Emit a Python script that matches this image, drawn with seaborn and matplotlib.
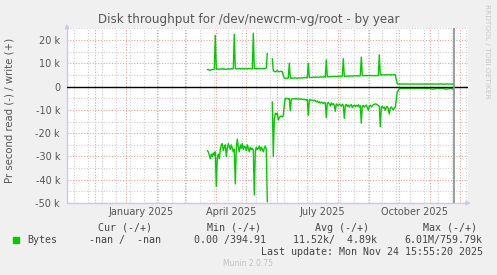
import numpy as np
import pandas as pd
import matplotlib
matplotlib.use("Agg")
import matplotlib.pyplot as plt
import matplotlib.dates as mdates
import seaborn as sns

# ---------------- data ----------------
title = "Disk throughput for /dev/newcrm-vg/root - by year"
y_label = "Pr second read (-) / write (+)"
y_ticks = [20, 10, 0, -10, -20, -30, -40, -50]          # in k
y_tick_labels = ["20 k", "10 k", "0", "-10 k", "-20 k", "-30 k", "-40 k", "-50 k"]
y_minor_ticks = [25, 15, 5, -5, -15, -25, -35, -45]
x_label_dates = ["2025-01-16", "2025-04-16", "2025-07-16", "2025-10-16"]
x_labels = ["January 2025", "April 2025", "July 2025", "October 2025"]

seg1_start = "2025-03-23"
seg2_start = "2025-05-27"
now_time = "2025-11-24 15:55"

write_seg1 = [7.3, 7.4, 7.1, 7.0, 7.3, 7.4, 7.3, 7.5, 22.0, 7.5,
              7.6, 7.4, 7.5, 7.6, 7.5, 7.7, 7.5, 7.6, 7.4, 7.6,
              7.5, 7.7, 7.6, 7.5, 7.7, 7.6, 7.7, 22.5, 7.8, 7.6,
              7.7, 7.6, 7.8, 7.7, 7.6, 7.8, 7.7, 7.6, 7.8, 7.7,
              7.6, 7.8, 7.7, 7.8, 7.6, 7.7, 23.0, 7.8, 7.7, 7.8,
              7.7, 7.8, 7.8, 7.7, 7.8, 7.7, 7.8, 7.7, 7.8, 8.0,
              14.3]
read_seg1 = [-27.5, -28.0, -29.5, -31.0, -29.0, -30.0, -28.5, -29.5, -28.0, -42.8,
             -30.5, -29.0, -31.0, -27.0, -25.0, -24.5, -27.5, -26.0, -25.0, -30.0,
             -26.5, -24.5, -25.5, -27.0, -25.0, -26.5, -28.0, -27.0, -41.8, -26.5,
             -22.5, -26.0, -28.0, -25.0, -26.5, -24.5, -27.0, -25.5, -26.0, -27.5,
             -25.0, -26.5, -28.0, -26.0, -27.0, -26.5, -27.5, -46.5, -28.0, -26.0,
             -27.0, -26.5, -25.5, -27.5, -26.0, -27.0, -28.0, -26.5, -25.5, -27.0,
             -49.5]
write_seg2 = [12.0, 6.8, 6.5, 6.4, 6.6, 7.0, 6.5, 6.4, 6.6, 6.5,
              6.4, 4.8, 3.7, 3.6, 3.7, 3.6, 3.7, 10.1, 3.7, 3.6,
              3.7, 3.6, 3.7, 3.8, 3.7, 3.6, 3.7, 3.8, 3.7, 3.8,
              3.7, 3.8, 3.9, 3.8, 3.9, 3.8, 10.1, 3.9, 4.0, 3.9,
              4.0, 4.1, 4.0, 4.1, 4.0, 4.1, 4.0, 4.1, 4.2, 4.1,
              4.2, 4.1, 4.2, 4.1, 11.5, 4.2, 4.3, 4.2, 4.3, 4.4,
              4.3, 4.4, 4.3, 4.4, 4.3, 4.4, 4.5, 4.4, 4.5, 4.4,
              4.5, 12.0, 4.5, 4.4, 4.5, 4.6, 4.5, 4.6, 4.5, 4.6,
              4.5, 4.6, 4.7, 4.6, 4.7, 4.6, 4.7, 4.6, 4.7, 12.7,
              4.8, 4.7, 4.8, 4.7, 4.8, 4.7, 4.8, 4.7, 4.8, 4.7,
              4.8, 4.7, 4.8, 4.7, 4.8, 4.7, 4.8, 13.7, 5.0, 5.1,
              5.0, 5.1, 5.0, 5.1, 5.0, 5.1, 5.2, 5.1, 5.0, 5.1,
              5.0, 5.1, 5.2, 5.1, 3.0, 1.2,
              1.1, 1.1, 1.1, 1.2, 1.1, 1.1, 1.1, 1.1, 1.2, 1.1,
              1.1, 1.1, 1.1, 1.1, 1.2, 1.1, 1.1, 1.1, 1.1, 1.1,
              1.1, 1.2, 1.1, 1.1, 1.1, 1.1, 1.1, 1.1, 1.2, 1.1,
              1.1, 1.1, 1.1, 1.1, 1.1, 1.2, 1.1, 1.1, 1.1, 1.1,
              1.1, 1.1, 1.2, 1.1, 1.1, 1.1, 1.1, 1.1, 1.1, 1.2,
              1.1, 1.1, 1.1, 1.1, 1.1, 1.1]
read_seg2 = [-6.5, -30.0, -14.0, -11.5, -12.0, -11.3, -14.3, -13.2, -12.9, -12.6,
             -13.0, -12.4, -8.0, -5.0, -5.2, -5.0, -5.3, -5.1, -10.3, -5.4,
             -5.2, -5.3, -5.1, -5.3, -5.2, -5.4, -5.3, -5.2, -5.4, -5.3,
             -5.5, -5.4, -5.6, -5.5, -5.7, -5.6, -12.3, -5.6, -5.8, -5.7,
             -5.9, -6.0, -5.8, -6.1, -6.5, -6.2, -6.8, -6.5, -7.0, -6.7,
             -6.9, -7.2, -6.8, -7.0, -13.3, -7.2, -6.8, -7.5, -8.2, -7.0,
             -7.8, -7.3, -8.0, -10.6, -7.4, -7.8, -8.2, -7.5, -7.9, -8.4,
             -7.6, -8.0, -13.6, -8.2, -7.6, -8.5, -7.9, -8.8, -8.1, -7.7,
             -9.0, -8.3, -7.9, -8.6, -8.0, -8.4, -7.8, -8.7, -8.2, -15.7,
             -8.5, -8.0, -8.8, -8.3, -7.9, -9.0, -10.1, -8.4, -8.0, -8.7,
             -8.2, -7.8, -7.6, -7.4, -7.5, -7.8, -8.1, -8.5, -17.2, -9.0,
             -8.4, -9.2, -8.8, -10.2, -9.0, -8.5, -9.6, -11.7, -9.2, -8.7,
             -9.4, -10.0, -9.1, -8.8, -5.5, -2.2,
             -1.6, -0.9, -0.7, -0.8, -0.7, -0.7, -0.8, -0.7, -0.7, -0.8,
             -0.7, -0.7, -0.8, -0.7, -0.7, -0.7, -0.8, -0.7, -0.7, -0.7,
             -0.8, -0.7, -0.7, -0.7, -0.8, -0.7, -0.7, -0.7, -0.8, -0.7,
             -0.7, -0.7, -0.8, -1.0, -1.1, -1.0, -1.0, -0.9, -0.8, -0.7,
             -0.7, -0.8, -0.7, -0.7, -0.8, -0.7, -0.9, -1.0, -1.1, -1.0,
             -0.9, -0.8, -0.7, -0.7, -1.0, -0.8]

legend_headers = ["Cur (-/+)", "Min (-/+)", "Avg (-/+)", "Max (-/+)"]
legend_name = "Bytes"
legend_values = ["-nan /  -nan", "0.00 /394.91", "11.52k/  4.89k", "6.01M/759.79k"]
last_update = "Last update: Mon Nov 24 15:55:20 2025"
footer = "Munin 2.0.75"
side_text = "RRDTOOL / TOBI OETIKER"

# ---------------- build frame ----------------
frames = []
for name, start, vals in [("w1", seg1_start, write_seg1), ("r1", seg1_start, read_seg1),
                          ("w2", seg2_start, write_seg2), ("r2", seg2_start, read_seg2)]:
    frames.append(pd.DataFrame({"date": pd.date_range(start, periods=len(vals), freq="D"),
                                "value": vals, "trace": name}))
df = pd.concat(frames, ignore_index=True)

# ---------------- figure ----------------
sns.set_theme(style="white")
plt.rcParams["font.family"] = ["DejaVu Sans"]
W, H = 497, 275
fig = plt.figure(figsize=(W / 100, H / 100), dpi=100, facecolor="#f0f0f0")
ax = fig.add_axes([67 / W, 1 - 203 / H, (468 - 67) / W, (203 - 28) / H])
ax.set_facecolor("white")

green = "#00cc00"
sns.lineplot(data=df, x="date", y="value", units="trace", estimator=None,
             color=green, lw=1.0, ax=ax, legend=False, zorder=3)

ax.axhline(0, color="black", lw=1.0, zorder=4)
ax.axvline(pd.Timestamp(now_time), color="#8c8c8c", lw=1.2, zorder=4)

xmin = pd.Timestamp("2025-01-01") - pd.Timedelta(days=59.3)
xmax = pd.Timestamp("2025-01-01") + pd.Timedelta(days=341.7)
ax.set_xlim(xmin, xmax)
ax.set_ylim(-50, 25.2)

# grid
major_x = pd.date_range("2024-12-01", "2025-12-01", freq="MS")
minor_x = pd.date_range("2024-11-10", "2025-12-08", freq="14D")
ax.set_xticks(major_x)
ax.set_xticks(minor_x, minor=True)
ax.set_xticklabels([])
ax.set_yticks(y_ticks)
ax.set_yticklabels(y_tick_labels)
ax.set_yticks(y_minor_ticks, minor=True)

red = "#eaa0a0"
grey = "#d0d0d0"
ax.grid(which="minor", color=grey, ls=(0, (1, 1.5)), lw=0.8, zorder=1)
ax.grid(which="major", color=red, ls=(0, (1, 1.5)), lw=0.8, zorder=2)
ax.set_axisbelow(True)

ax.tick_params(axis="both", which="major", length=2.5, direction="out", color=red,
               labelsize=7, labelcolor="#555555", pad=2.5)
ax.tick_params(axis="both", which="minor", length=2.5, direction="out", color=grey)
ax.set_xlabel("")
ax.set_ylabel("")

for s in ["top", "right"]:
    ax.spines[s].set_visible(False)
for s in ["left", "bottom"]:
    ax.spines[s].set_color("#c8c8f0")
    ax.spines[s].set_linewidth(1.0)

ax.annotate("", xy=(0, 1.04), xytext=(0, 0.99), xycoords="axes fraction",
            arrowprops=dict(arrowstyle="-|>", color="#c8c8f0", lw=1, mutation_scale=6))
ax.annotate("", xy=(1.014, 0), xytext=(0.99, 0), xycoords="axes fraction",
            arrowprops=dict(arrowstyle="-|>", color="#c8c8f0", lw=1, mutation_scale=6))

xt = ax.get_xaxis_transform()
for d, lab in zip(x_label_dates, x_labels):
    ax.text(pd.Timestamp(d), -9 / 175, lab, transform=xt, ha="center", va="center",
            fontsize=7, color="#555555")

def ftxt(x, y, s, **kw):
    fig.text(x / W, 1 - y / H, s, **kw)

ftxt(248.5, 19, title, ha="center", va="center", fontsize=8.6, color="#555555")
ftxt(10, 110, y_label, ha="center", va="center", rotation=90, fontsize=7.3, color="#555555")
ftxt(487, 4, side_text, ha="center", va="top", rotation=270, fontsize=5.3, color="#c8c8c8")

mono = dict(family="DejaVu Sans Mono", fontsize=7.2, color="#444444", va="center", ha="left")
for x, s in zip([98, 207, 315, 423], legend_headers):
    ftxt(x, 228, s, **mono)
ftxt(27, 240, legend_name, **mono)
for x, s in zip([89, 194, 293, 404], legend_values):
    ftxt(x, 240, s, **mono)
ftxt(483, 252, last_update, **{**mono, "ha": "right"})
ftxt(248, 264, footer, ha="center", va="center", fontsize=5.5, color="#c0c0c0")

fig.patches.append(plt.Rectangle((13.3 / W, 1 - 242.5 / H), 6 / W, 6 / H,
                                 transform=fig.transFigure, color=green, figure=fig))

fig.savefig("out.png", dpi=100, facecolor=fig.get_facecolor())
